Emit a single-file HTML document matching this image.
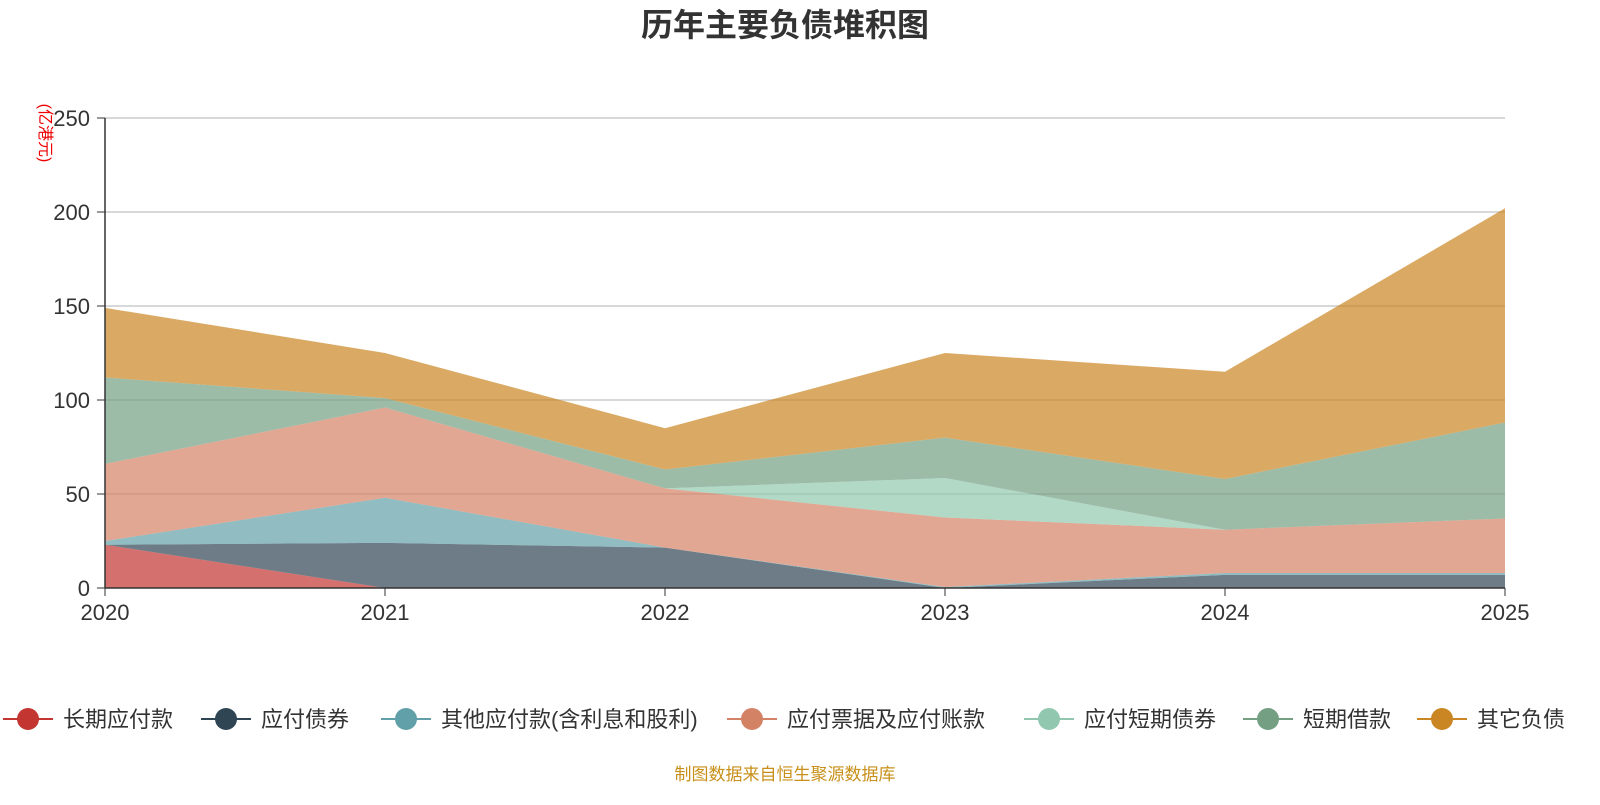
<!DOCTYPE html>
<html><head><meta charset="utf-8">
<style>
body{margin:0;background:#fff;width:1600px;height:800px;overflow:hidden;font-family:"Liberation Sans","Noto Sans CJK SC",sans-serif;}
</style></head>
<body>
<svg id="chart" width="1600" height="800" xmlns="http://www.w3.org/2000/svg" font-family="Liberation Sans, Noto Sans CJK SC, sans-serif">
<text x="785" y="36" text-anchor="middle" font-size="32" font-weight="bold" fill="#333">历年主要负债堆积图</text>
<text transform="translate(40,133) rotate(90)" text-anchor="middle" font-size="16" fill="#e00">(亿港元)</text>
<g id="grid"></g><g id="areas"></g><g id="axes"></g><g id="legend"></g>
<text x="785" y="780" text-anchor="middle" font-size="17" fill="#c8901a">制图数据来自恒生聚源数据库</text>
</svg>
<script>
const years=['2020','2021','2022','2023','2024','2025'];
const yTicks=[0,50,100,150,200,250];
const seriesNames=['长期应付款','应付债券','其他应付款(含利息和股利)','应付票据及应付账款','应付短期债券','短期借款','其它负债'];
const sLong=[23,0,0,0,0,0];
const sBond=[0,24,21.5,0,7,7];
const sOther=[2,24,0,0.5,1,1];
const sBills=[41,48,31.5,37,23,29];
const sShortBond=[0,0,0,21,0,0];
const sLoan=[46,5,10,21.5,27,51];
const sRest=[37,24,22,45,57,114];
const series=[sLong,sBond,sOther,sBills,sShortBond,sLoan,sRest];
const colors=['#c23531','#2f4554','#61a0a8','#d48265','#91c7ae','#749f83','#ca8622'];
const NS='http://www.w3.org/2000/svg';
const x=i=>105+i*280, y=v=>588-v*1.88;
function mk(t,a,p){const e=document.createElementNS(NS,t);for(const k in a)e.setAttribute(k,a[k]);p.appendChild(e);return e;}
const grid=document.getElementById('grid'),axes=document.getElementById('axes'),areas=document.getElementById('areas'),legend=document.getElementById('legend');
yTicks.forEach(t=>{
 if(t>0){const l=mk('line',{x1:105,x2:1505,y1:y(t),y2:y(t),stroke:'#ccc','stroke-width':1.5},grid);
 
 }
 const tx=mk('text',{x:90,y:y(t)+8,'text-anchor':'end','font-size':22,fill:'#333'},axes);tx.textContent=t;
 
 
 mk('line',{x1:97,x2:105,y1:y(t),y2:y(t),stroke:'#333'},axes);
});
mk('line',{x1:105,x2:105,y1:118,y2:588,stroke:'#333','stroke-width':1.5},axes);
mk('line',{x1:105,x2:1505,y1:588,y2:588,stroke:'#333','stroke-width':1.5},axes);
years.forEach((yr,i)=>{
 const tx=mk('text',{x:x(i),y:620,'text-anchor':'middle','font-size':22,fill:'#333'},axes);tx.textContent=yr;
 
 
 mk('line',{x1:x(i),x2:x(i),y1:588,y2:596,stroke:'#333'},axes);
});
let base=years.map(()=>0);
series.forEach((s,k)=>{
 const top=base.map((b,i)=>b+s[i]);
 let d='M'+top.map((v,i)=>x(i)+','+y(v)).join(' L');
 for(let i=years.length-1;i>=0;i--)d+=' L'+x(i)+','+y(base[i]);
 const p=mk('path',{d:d+'Z',fill:colors[k],'fill-opacity':0.7,stroke:'none'},areas);
 
 
 base=top;
});
const lx=[28,226,406,752,1049,1268,1442];
seriesNames.forEach((n,k)=>{
 const g=mk('g',{},legend);
 
 
 mk('line',{x1:lx[k]-25,x2:lx[k]+25,y1:719,y2:719,stroke:colors[k],'stroke-width':2},g);
 mk('circle',{cx:lx[k],cy:719,r:11,fill:colors[k]},g);
 const t=mk('text',{x:lx[k]+35,y:727,'font-size':22,fill:'#333'},g);t.textContent=n;
});
</script>
</body></html>
